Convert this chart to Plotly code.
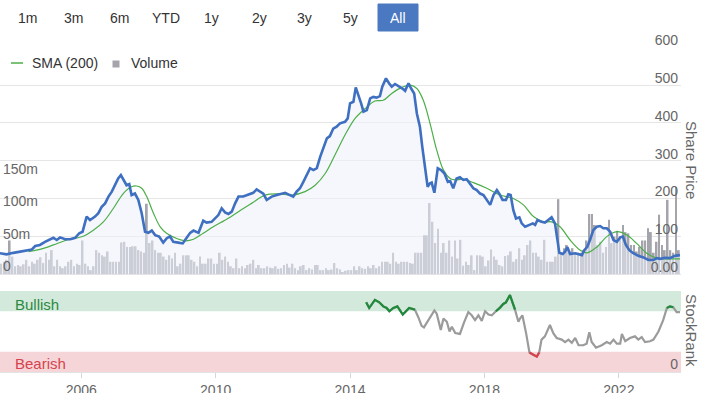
import plotly.graph_objects as go
from datetime import datetime

# ---------------- data ----------------
price_years = [2003.58, 2003.78, 2003.98, 2004.18, 2004.38, 2004.53, 2004.63, 2004.77, 2004.92, 2005.07,
               2005.17, 2005.27, 2005.37, 2005.52, 2005.67, 2005.82, 2005.94, 2006.04, 2006.16, 2006.26,
               2006.41, 2006.51, 2006.61, 2006.71, 2006.81, 2006.91, 2007.01, 2007.10, 2007.18, 2007.27,
               2007.35, 2007.43, 2007.50, 2007.60, 2007.70, 2007.80, 2007.90, 2008.00, 2008.10, 2008.20,
               2008.32, 2008.44, 2008.54, 2008.64, 2008.74, 2008.89, 2009.02, 2009.09, 2009.24, 2009.34,
               2009.49, 2009.63, 2009.73, 2009.88, 2009.98, 2010.08, 2010.18, 2010.28, 2010.38, 2010.48,
               2010.58, 2010.68, 2010.82, 2010.93, 2011.02, 2011.12, 2011.22, 2011.32, 2011.42, 2011.52,
               2011.67, 2011.82, 2011.97, 2012.07, 2012.21, 2012.31, 2012.41, 2012.51, 2012.61, 2012.71,
               2012.81, 2012.91, 2013.01, 2013.11, 2013.21, 2013.31, 2013.40, 2013.50, 2013.60, 2013.70,
               2013.85, 2013.93, 2014.00, 2014.10, 2014.17, 2014.25, 2014.33, 2014.40, 2014.50, 2014.60,
               2014.69, 2014.79, 2014.89, 2014.96, 2015.07, 2015.16, 2015.24, 2015.34, 2015.46, 2015.56,
               2015.64, 2015.74, 2015.82, 2015.91, 2015.99, 2016.08, 2016.15, 2016.23, 2016.31, 2016.38,
               2016.43, 2016.51, 2016.61, 2016.71, 2016.81, 2016.91, 2016.98, 2017.07, 2017.17, 2017.27,
               2017.37, 2017.47, 2017.57, 2017.67, 2017.77, 2017.87, 2017.97, 2018.07, 2018.17, 2018.27,
               2018.37, 2018.44, 2018.54, 2018.64, 2018.71, 2018.78, 2018.86, 2018.94, 2019.04, 2019.11,
               2019.21, 2019.34, 2019.44, 2019.51, 2019.58, 2019.70, 2019.80, 2019.90, 2020.00, 2020.10,
               2020.17, 2020.23, 2020.33, 2020.40, 2020.47, 2020.55, 2020.70, 2020.80, 2020.90, 2020.97,
               2021.06, 2021.14, 2021.24, 2021.34, 2021.44, 2021.54, 2021.64, 2021.74, 2021.84, 2021.94,
               2022.04, 2022.12, 2022.21, 2022.31, 2022.43, 2022.58, 2022.73, 2022.88, 2023.03, 2023.13,
               2023.23, 2023.38, 2023.52, 2023.67, 2023.82]
price_values = [55, 52, 56, 59, 62, 65, 74, 77, 85, 92,
                96, 90, 97, 92, 92, 96, 108, 112, 152, 143,
                152, 161, 178, 187, 205, 218, 235, 253, 262, 249,
                235, 238, 209, 213, 196, 161, 112, 109, 115, 103,
                99, 83, 94, 100, 85, 83, 81, 90, 109, 115,
                109, 141, 136, 138, 147, 156, 174, 163, 159, 165,
                187, 205, 205, 209, 213, 215, 224, 218, 213, 196,
                205, 209, 212, 215, 209, 205, 218, 227, 244, 262,
                280, 275, 280, 310, 332, 359, 365, 385, 390, 399,
                403, 412, 452, 456, 494, 474, 452, 430, 434, 465,
                469, 467, 471, 496, 518, 505, 496, 503, 497, 491,
                485, 505, 491, 478, 425, 390, 337, 284, 231, 240,
                242, 215, 280, 275, 266, 244, 246, 227, 253, 256,
                249, 251, 238, 227, 222, 213, 209, 196, 183, 209,
                222, 213, 196, 196, 211, 209, 169, 147, 150, 134,
                125, 130, 134, 130, 143, 138, 136, 143, 150, 134,
                90, 56, 53, 59, 71, 53, 55, 53, 50, 63,
                72, 90, 116, 125, 127, 121, 121, 112, 90, 85,
                97, 99, 77, 63, 55, 48, 44, 37, 37, 42,
                40, 43, 42, 48, 50]

sma_years = [2004.43, 2004.77, 2005.17, 2005.57, 2006.06, 2006.36, 2006.66, 2006.96, 2007.25, 2007.50,
             2007.65, 2007.80, 2007.95, 2008.15, 2008.35, 2008.54, 2008.84, 2009.09, 2009.34, 2009.63,
             2009.93, 2010.23, 2010.43, 2010.68, 2011.07, 2011.47, 2011.87, 2012.27, 2012.66, 2012.96,
             2013.26, 2013.55, 2013.85, 2014.15, 2014.45, 2014.74, 2014.99, 2015.24, 2015.54, 2015.79,
             2015.99, 2016.18, 2016.38, 2016.58, 2016.78, 2016.98, 2017.13, 2017.37, 2017.67, 2018.07,
             2018.46, 2018.86, 2019.16, 2019.46, 2019.75, 2020.00, 2020.25, 2020.55, 2020.85, 2021.05,
             2021.34, 2021.64, 2021.94, 2022.24, 2022.53, 2022.83, 2023.13, 2023.43, 2023.82]
sma_values = [59, 65, 77, 90, 100, 116, 138, 174, 213, 231,
              233, 227, 205, 161, 125, 108, 94, 88, 92, 108,
              125, 140, 150, 165, 187, 209, 212, 209, 218, 235,
              266, 315, 368, 412, 438, 458, 460, 478, 494, 500,
              491, 460, 399, 328, 275, 253, 249, 251, 242, 227,
              209, 200, 183, 152, 138, 138, 125, 90, 63, 56,
              71, 99, 112, 103, 81, 55, 42, 40, 40]

# monthly volume in millions, starting August 2003
volume_start = (2003, 8)
volume_m = (
    [16, 19, 22, 52, 27] +                                   # 2003
    [12, 14, 12, 15, 22, 12, 19, 16, 22, 26, 17, 33] +       # 2004
    [22, 37, 12, 22, 12, 9, 12, 19, 22, 12, 16, 14] +        # 2005
    [52, 16, 12, 6, 12, 37, 33, 29, 27, 35, 19, 19] +        # 2006
    [19, 19, 49, 50, 42, 42, 43, 43, 37, 35, 33, 109] +      # 2007
    [48, 52, 37, 33, 33, 27, 22, 29, 24, 33, 12, 16] +       # 2008
    [29, 29, 29, 22, 19, 12, 27, 16, 16, 24, 24, 16] +       # 2009
    [16, 33, 22, 27, 19, 12, 9, 24, 9, 12, 9, 14] +          # 2010
    [16, 22, 9, 14, 9, 9, 12, 10, 9, 12, 8, 9] +             # 2011
    [14, 16, 10, 16, 9, 6, 12, 14, 6, 9, 7, 14] +            # 2012
    [14, 6, 6, 9, 6, 7, 17, 9, 7, 3, 5, 6] +                 # 2013
    [6, 12, 6, 12, 9, 8, 12, 9, 14, 9, 12, 19] +             # 2014
    [19, 19, 16, 33, 19, 16, 19, 19, 19, 17, 16, 33] +       # 2015
    [33, 33, 60, 60, 110, 81, 48, 70, 33, 48, 33, 52] +      # 2016
    [27, 52, 24, 53, 13, 19, 14, 29, 6, 29, 29, 27] +        # 2017
    [12, 21, 38, 27, 22, 14, 12, 28, 29, 35, 19, 23] +       # 2018
    [40, 22, 29, 45, 52, 33, 33, 27, 22, 53, 19, 19] +       # 2019
    [19, 27, 116, 33, 40, 45, 33, 40, 33, 33, 33, 37] +      # 2020
    [52, 93, 93, 76, 45, 50, 33, 42, 84, 48, 58, 67] +       # 2021
    [58, 76, 65, 63, 45, 45, 35, 42, 52, 52, 71, 65] +       # 2022
    [33, 50, 92, 45, 37, 115, 37, 33, 135, 37]               # 2023
)

rank_years = [2014.48, 2014.57, 2014.74, 2014.87, 2014.99, 2015.09, 2015.17, 2015.29, 2015.41, 2015.57,
              2015.76, 2015.93, 2016.03, 2016.13, 2016.20, 2016.38, 2016.51, 2016.58, 2016.70, 2016.78,
              2016.88, 2016.96, 2017.03, 2017.13, 2017.27, 2017.39, 2017.52, 2017.62, 2017.72, 2017.82,
              2017.92, 2018.02, 2018.12, 2018.22, 2018.34, 2018.46, 2018.56, 2018.64, 2018.76, 2018.91,
              2019.01, 2019.06, 2019.13, 2019.24, 2019.34, 2019.46, 2019.56, 2019.63, 2019.70, 2019.80,
              2019.95, 2020.05, 2020.15, 2020.30, 2020.40, 2020.50, 2020.60, 2020.70, 2020.80, 2020.94,
              2021.04, 2021.12, 2021.19, 2021.32, 2021.49, 2021.64, 2021.74, 2021.84, 2021.94, 2022.04,
              2022.09, 2022.19, 2022.33, 2022.48, 2022.58, 2022.68, 2022.78, 2022.93, 2023.03, 2023.18,
              2023.32, 2023.43, 2023.52, 2023.62, 2023.72, 2023.82]
rank_values = [86, 79, 89, 86, 81, 79, 75, 79, 81, 71,
               79, 77, 68, 57, 55, 67, 76, 72, 52, 66,
               62, 50, 56, 48, 47, 61, 74, 70, 64, 70,
               63, 75, 71, 70, 75, 79, 84, 86, 95, 77,
               62, 66, 70, 48, 24, 21, 19, 24, 40, 44,
               58, 48, 42, 40, 37, 40, 36, 42, 33, 33,
               35, 49, 37, 30, 33, 37, 35, 40, 35, 35,
               47, 38, 42, 44, 40, 43, 37, 38, 40, 50,
               64, 79, 81, 80, 74, 74]
# g = bullish (green), r = bearish (red), n = neutral (grey)
rank_class = (['g'] * 12 + ['n'] * 22 + ['g'] * 6 + ['n'] * 4 + ['r'] * 4 +
              ['n'] * 33 + ['g'] * 3 + ['n'] * 2)

tick_years = [2006, 2010, 2014, 2018, 2022]
price_ticks = [0, 100, 200, 300, 400, 500, 600]
price_tick_text = ["0.00", "100", "200", "300", "400", "500", "600"]
volume_ticks = [0, 50, 100, 150]
volume_tick_text = ["0", "50m", "100m", "150m"]
range_buttons = ["1m", "3m", "6m", "YTD", "1y", "2y", "3y", "5y", "All"]


# ---------------- helpers ----------------
def to_date(y):
    yr = int(y)
    s, e = datetime(yr, 1, 1), datetime(yr + 1, 1, 1)
    return s + (e - s) * (y - yr)


W, H = 704, 393
L, R, T, B = 0, 23, 47, 21
PW, PH = W - L - R, H - T - B


def px(x):
    return (x - L) / PW


def py(y):
    return (H - B - y) / PH


price_dates = [to_date(v) for v in price_years]
sma_dates = [to_date(v) for v in sma_years]
rank_dates = [to_date(v) for v in rank_years]
vol_dates = []
for i in range(len(volume_m)):
    k = volume_start[1] - 1 + i
    vol_dates.append(datetime(volume_start[0] + k // 12, k % 12 + 1, 15))

x_start = to_date(2003.583)
x_end = to_date(2003.583 + PW / 33.6)

FONT = "Liberation Sans, Arial, Helvetica, sans-serif"
fig = go.Figure()

fig.add_trace(go.Bar(x=vol_dates, y=volume_m, xaxis="x2", yaxis="y",
                     marker=dict(color="#a3a4ac", line=dict(width=0)), name="Volume"))
fig.add_trace(go.Scatter(x=price_dates, y=price_values, xaxis="x2", yaxis="y2", mode="lines",
                         line=dict(width=0), fill="tozeroy", fillcolor="rgba(236,240,250,0.55)",
                         hoverinfo="skip", name="fill"))
fig.add_trace(go.Scatter(x=sma_dates, y=sma_values, xaxis="x2", yaxis="y2", mode="lines",
                         line=dict(color="#4cae48", width=1.2, shape="spline"), name="SMA (200)"))
fig.add_trace(go.Scatter(x=price_dates, y=price_values, xaxis="x2", yaxis="y2", mode="lines",
                         line=dict(color="#3e6fc1", width=2.6), name="Share Price"))

fig.add_trace(go.Scatter(x=rank_dates, y=rank_values, xaxis="x", yaxis="y3", mode="lines",
                         line=dict(color="#9b9b9b", width=2.2), name="StockRank"))
for cls, col in (("g", "#1f8a3a"), ("r", "#d8404c")):
    ys = [v if c == cls else None for v, c in zip(rank_values, rank_class)]
    fig.add_trace(go.Scatter(x=rank_dates, y=ys, xaxis="x", yaxis="y3", mode="lines",
                             line=dict(color=col, width=2.2), connectgaps=False, hoverinfo="skip"))

top_dom = [(H - B - 274) / PH, 1]
bot_dom = [0, (H - B - 291) / PH]

fig.update_layout(
    width=W, height=H, margin=dict(l=L, r=R, t=T, b=B, autoexpand=False),
    paper_bgcolor="white", plot_bgcolor="white", showlegend=False, bargap=0.3,
    font=dict(family=FONT, color="#666", size=14),
    xaxis=dict(domain=[0, 1], anchor="y3", type="date", range=[x_start, x_end], automargin=False,
               tickvals=[datetime(y, 1, 1) for y in tick_years], ticktext=[str(y) for y in tick_years],
               ticks="outside", ticklen=5, tickcolor="#d6d6d6", showline=True, linecolor="#e3e3e3",
               showgrid=False, zeroline=False, tickfont=dict(size=14, color="#666")),
    xaxis2=dict(domain=[0, 1], anchor="y", matches="x", type="date", showticklabels=False,
                automargin=False, showgrid=False, zeroline=False, showline=True,
                linecolor="#e3e3e3", ticks=""),
    yaxis=dict(domain=top_dom, anchor="x2", side="left", range=[0, 352], automargin=False,
               tickvals=volume_ticks, ticktext=volume_tick_text, ticklabelposition="inside",
               ticklabeloverflow="allow", ticklabelshift=-8, showgrid=False, zeroline=False,
               ticks="", tickfont=dict(size=14, color="#666")),
    yaxis2=dict(overlaying="y", anchor="x2", side="right", range=[0, 601], automargin=False,
                tickvals=price_ticks, ticktext=price_tick_text, ticklabelposition="inside",
                ticklabeloverflow="allow", ticklabelshift=-7, showgrid=True, gridcolor="#e6e6e6",
                gridwidth=1, zeroline=False, ticks="", tickfont=dict(size=14, color="#666")),
    yaxis3=dict(domain=bot_dom, anchor="x", side="right", range=[0, 100], automargin=False,
                tickvals=[0], ticktext=["0"], ticklabelposition="inside", ticklabeloverflow="allow",
                ticklabelshift=-8, showgrid=False, zeroline=False, ticks="",
                tickfont=dict(size=14, color="#666")),
)

shapes = [
    dict(type="rect", xref="paper", yref="y3", x0=0, x1=1, y0=75, y1=100,
         fillcolor="#d3e9db", line=dict(width=0), layer="below"),
    dict(type="rect", xref="paper", yref="y3", x0=0, x1=1, y0=0, y1=25,
         fillcolor="#f5d5d8", line=dict(width=0), layer="below"),
    # legend symbols
    dict(type="line", xref="paper", yref="paper", x0=px(11), x1=px(23), y0=py(63), y1=py(63),
         line=dict(color="#4cae48", width=1.5)),
    dict(type="rect", xref="paper", yref="paper", x0=px(112.5), x1=px(119.5), y0=py(67.5), y1=py(60.5),
         fillcolor="#a3a4ac", line=dict(width=0)),
    # active range button
    dict(type="rect", xref="paper", yref="paper", x0=px(378), x1=px(418), y0=py(31), y1=py(4),
         fillcolor="#4a78c1", line=dict(color="#4a78c1", width=1)),
]
fig.update_layout(shapes=shapes)

ann = []
btn_x = [27, 73, 119, 166, 212, 259, 304, 350, 398]
for lab, bx in zip(range_buttons, btn_x):
    ann.append(dict(text=lab, x=px(bx), y=py(18), xref="paper", yref="paper", showarrow=False,
                    xanchor="center", yanchor="middle",
                    font=dict(size=14, color="white" if lab == "All" else "#333")))
ann += [
    dict(text="SMA (200)", x=px(30), y=py(63), xref="paper", yref="paper", showarrow=False,
         xanchor="left", yanchor="middle", font=dict(size=14, color="#333")),
    dict(text="Volume", x=px(129), y=py(63), xref="paper", yref="paper", showarrow=False,
         xanchor="left", yanchor="middle", font=dict(size=14, color="#333")),
    dict(text="Share Price", x=px(692), y=py(160), xref="paper", yref="paper", showarrow=False,
         textangle=90, xanchor="center", yanchor="middle", font=dict(size=15, color="#666")),
    dict(text="StockRank", x=px(692), y=py(331), xref="paper", yref="paper", showarrow=False,
         textangle=90, xanchor="center", yanchor="middle", font=dict(size=15, color="#666")),
    dict(text="Bullish", x=px(13), y=py(304), xref="paper", yref="paper", showarrow=False,
         xanchor="left", yanchor="middle", font=dict(size=15, color="#2b8a41")),
    dict(text="Bearish", x=px(13), y=py(363), xref="paper", yref="paper", showarrow=False,
         xanchor="left", yanchor="middle", font=dict(size=15, color="#d6434f")),
]
fig.update_layout(annotations=ann)

fig.write_html("out.html", config={"displayModeBar": False},
               post_script="document.body.style.margin='0';document.body.style.padding='0';")
